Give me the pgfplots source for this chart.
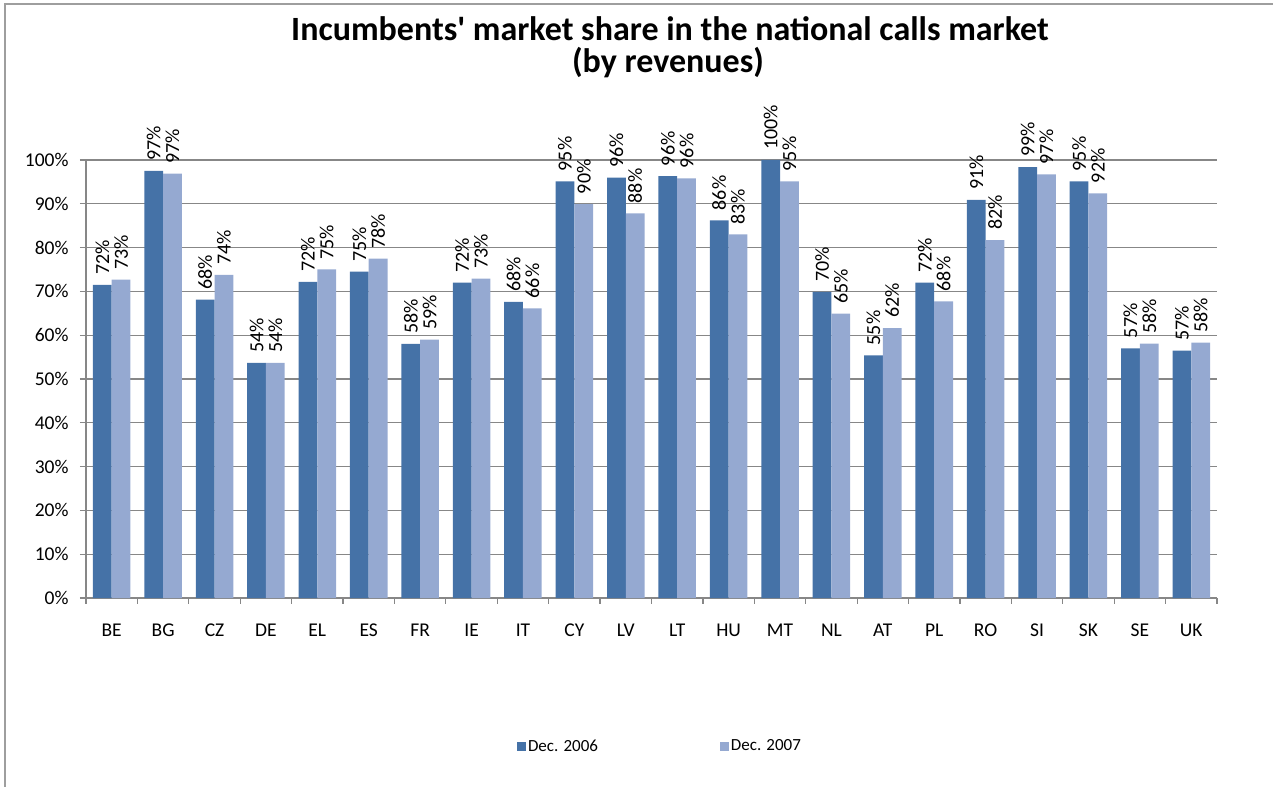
\documentclass[border=0pt]{standalone}
\usepackage{fontspec}
\setmainfont{Carlito}[Ligatures=TeXOff]
\usepackage{pgfplots}
\usepackage{pgfplotstable}
\pgfplotsset{compat=1.18}
\definecolor{cA}{HTML}{4572A7}
\definecolor{cB}{HTML}{95A9D1}
\definecolor{gridc}{HTML}{878787}
\pgfplotstableread{
x lab d06 l06 d07 l07
0.5 BE 71.5 72 72.7 73
1.5 BG 97.5 97 96.9 97
2.5 CZ 68.1 68 73.8 74
3.5 DE 53.7 54 53.7 54
4.5 EL 72.2 72 75.0 75
5.5 ES 74.5 75 77.5 78
6.5 FR 58.0 58 59.0 59
7.5 IE 72.0 72 72.9 73
8.5 IT 67.6 68 66.1 66
9.5 CY 95.1 95 89.9 90
10.5 LV 96.0 96 87.8 88
11.5 LT 96.3 96 95.8 96
12.5 HU 86.2 86 83.0 83
13.5 MT 100.0 100 95.1 95
14.5 NL 69.9 70 64.9 65
15.5 AT 55.4 55 61.6 62
16.5 PL 72.0 72 67.7 68
17.5 RO 90.9 91 81.7 82
18.5 SI 98.4 99 96.7 97
19.5 SK 95.1 95 92.4 92
20.5 SE 57.0 57 58.1 58
21.5 UK 56.5 57 58.3 58
}\datatable
\begin{document}
\begin{tikzpicture}
\path[use as bounding box] (0,0) rectangle (1273bp,787bp);
\draw[line width=1.2bp, black!38] (5bp,0) -- (5bp,783bp) -- (1273bp,783bp);
\node[anchor=base, font=\fontsize{34bp}{37bp}\selectfont\bfseries] at (670bp,746bp) {Incumbents' market share in the national calls market};
\node[anchor=base, font=\fontsize{34bp}{37bp}\selectfont\bfseries] at (668bp,714bp) {(by revenues)};
\begin{axis}[
  at={(86bp,189bp)}, anchor=south west,
  scale only axis, width=1131bp, height=438bp,
  xmin=0, xmax=22, ymin=0, ymax=100,
  axis lines=left, axis line style={-, gridc, line width=1.2bp},
  clip=false,
  ytick={0,10,...,100},
  yticklabel={\pgfmathprintnumber{\tick}\%},
  ymajorgrids, grid style={gridc, line width=1.2bp},
  xtick={0.5,1.5,...,21.5},
  xticklabels={BE,BG,CZ,DE,EL,ES,FR,IE,IT,CY,LV,LT,HU,MT,NL,AT,PL,RO,SI,SK,SE,UK},
  minor xtick={0,1,...,22},
  major x tick style={draw=none},
  minor x tick style={gridc, line width=1.2bp},
  y tick style={gridc, line width=1.2bp},
  tick align=outside,
  major tick length=6bp, minor tick length=6bp,
  tick label style={font=\fontsize{19.5bp}{22bp}\selectfont},
  yticklabel style={xshift=-8bp},
  xticklabel style={yshift=-16bp},
  /pgf/number format/assume math mode=true,
  ybar, bar width=0.365,
  point meta=explicit symbolic,
  nodes near coords={\pgfplotspointmeta\%},
  nodes near coords style={rotate=90, anchor=west, font=\fontsize{20bp}{22bp}\selectfont, inner xsep=9bp, inner ysep=2bp, xshift=1bp},
  legend columns=2,
  legend style={at={(0.5075,-0.338)}, anchor=center, draw=none, fill=none,
    font=\fontsize{17bp}{19bp}\selectfont,
    /tikz/every even column/.append style={column sep=120bp}},
]
\addplot[fill=cA, draw=none, bar shift=-0.1825,
  legend image code/.code={\fill[cA] (-2bp,-4.5bp) rectangle (7bp,4.5bp);}]
  table[x=x, y=d06, meta=l06] {\datatable};
\addlegendentry{Dec. 2006}
\addplot[fill=cB, draw=none, bar shift=0.1825,
  legend image code/.code={\fill[cB] (-3bp,-4.5bp) rectangle (6bp,4.5bp);}]
  table[x=x, y=d07, meta=l07] {\datatable};
\addlegendentry{Dec. 2007}
\end{axis}
\end{tikzpicture}
\end{document}
